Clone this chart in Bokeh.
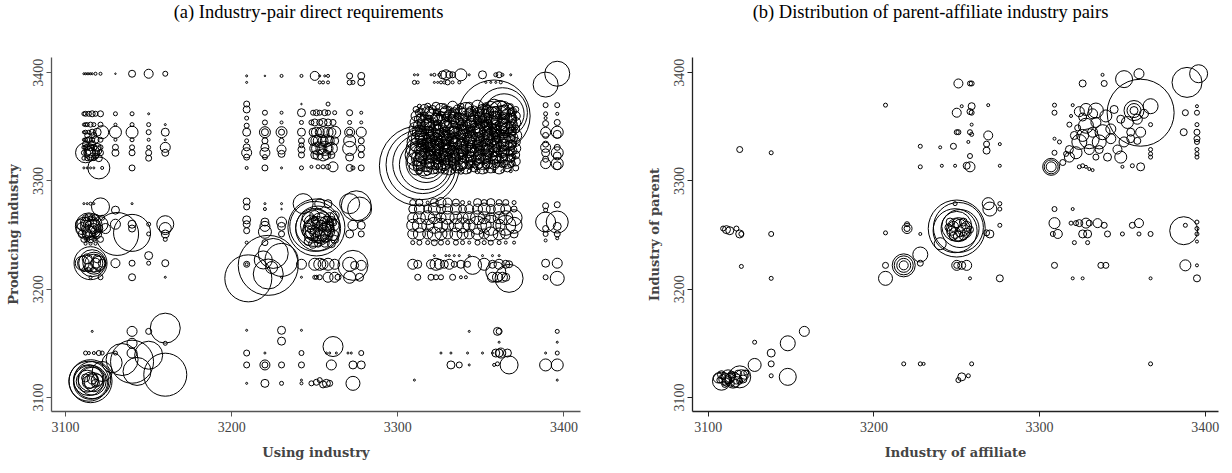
from bokeh.plotting import figure
from bokeh.layouts import row, column
from bokeh.models import FixedTicker, ColumnDataSource, Range1d
from bokeh.core.properties import value
from bokeh.embed import file_html
from bokeh.resources import INLINE

# ---------------- tick labels / titles ----------------
ticks = [3100, 3200, 3300, 3400]
title_a = "(a) Industry-pair direct requirements"
title_b = "(b) Distribution of parent-affiliate industry pairs"
xlab_a, ylab_a = "Using industry", "Producing industry"
xlab_b, ylab_b = "Industry of affiliate", "Industry of parent"

# ---------------- panel (a): (using, producing, marker size) ----------------
a_food_top = [
    (3111,3399,2),(3112,3399,2),(3113,3399,2),(3114,3399,2),(3115,3399,2),(3116,3399,2),(3118,3399,3),(3121,3399,3),
    (3130,3399,1.5),(3140,3399,7),(3150,3399,9),(3160,3399,5),
    (3111,3362,4),(3112,3362,5),(3114,3362,5),(3116,3362,6),(3118,3362,5),(3121,3362,6),(3130,3362,4),(3140,3362,4),(3150,3362,2),
    (3111,3352,3),(3112,3352,4),(3113,3352,4),(3115,3352,5),(3117,3352,4),(3121,3352,5),(3130,3352,3),(3140,3352,4),(3150,3352,4),(3160,3352,2),
    (3111,3345,3),(3112,3345,4),(3114,3345,4),(3116,3345,6),(3119,3345,8),(3122,3345,13),(3130,3345,12),(3140,3345,12),(3150,3345,5),(3160,3345,8),
    (3111,3338,3),(3112,3338,4),(3113,3338,5),(3114,3338,6),(3116,3338,5),(3118,3338,7),(3121,3338,5),(3130,3338,3),(3140,3338,4),(3150,3338,3),(3160,3338,2),
    (3111,3331,4),(3112,3331,5),(3113,3331,6),(3115,3331,7),(3117,3331,6),(3119,3331,8),(3121,3331,5),(3130,3331,6),(3140,3331,5),(3150,3331,4),(3160,3331,10),
    (3111,3326,5),(3112,3326,20),(3113,3326,7),(3115,3326,9),(3116,3326,15),(3118,3326,6),(3121,3326,6),(3130,3326,7),(3140,3326,6),(3150,3326,6),(3160,3326,7),
    (3111,3321,4),(3113,3321,5),(3115,3321,6),(3117,3321,5),(3120,3321,7),(3150,3321,6),
    (3111,3312,2),(3113,3312,2),(3115,3312,2),(3117,3312,2),(3120,3312,22),(3122,3312,3),(3140,3312,6),
    (3112,3334,6),(3114,3328,8),(3116,3334,7),(3118,3323,6),(3113,3342,5),(3117,3342,6),(3119,3328,9),
]
a_food_mid = [
    (3111,3279,2),(3113,3279,2),(3115,3279,3),(3117,3279,2),(3121,3276,18),(3130,3273,8),(3140,3279,2),
    (3112,3266,6),(3114,3266,8),(3116,3266,6),(3118,3266,7),(3122,3266,5),
    (3109,3260,10),(3111,3260,14),(3113,3260,8),(3114,3258,27),(3115,3258,20),(3116,3258,14),(3118,3260,9),(3121,3260,15),
    (3130,3260,10),(3140,3260,8),(3150,3260,4),(3160,3260,17),
    (3110,3256,12),(3112,3256,8),(3117,3256,10),(3120,3256,8),(3124,3256,10),(3140,3256,7),(3160,3256,12),
    (3110,3251,8),(3113,3251,10),(3116,3251,6),(3119,3251,9),(3131,3251,43),(3140,3252,37),(3150,3251,4),(3160,3251,8),
    (3111,3246,6),(3113,3246,5),(3115,3246,7),(3117,3246,4),(3121,3246,6),(3160,3246,4),
    (3112,3242,3),(3115,3242,3),(3118,3242,3),(3150,3231,8),
    (3110,3224,14),(3112,3224,16),(3115,3224,33),(3116,3224,27),(3117,3224,22),(3117,3224,18),(3118,3224,10),(3120,3224,14),
    (3122,3224,8),(3130,3224,9),(3140,3224,6),(3150,3224,4),(3160,3224,7),
    (3111,3218,4),(3114,3218,4),(3117,3218,5),(3120,3218,4),
    (3115,3211,3),(3121,3211,5),(3140,3211,7),(3160,3211,2),
    (3112,3262,10),(3114,3253,12),(3116,3262,9),(3118,3253,10),(3113,3228,10),(3119,3228,8),(3114,3220,9),
]
a_food_low = [
    (3115,3115,43),(3114,3115,40),(3116,3116,37),(3115,3114,34),(3114,3116,31),(3116,3115,28),(3115,3117,25),(3113,3115,22),
    (3117,3114,19),(3115,3116,16),(3114,3114,13),(3116,3117,10),(3112,3118,8),(3118,3113,8),(3119,3116,12),
    (3116,3161,2),(3112,3141,4),(3114,3141,3),(3117,3141,3),(3120,3141,5),(3122,3141,4),(3130,3141,4),
    (3140,3161,10),(3150,3161,6),(3140,3150,10),(3140,3141,10),(3160,3150,4),(3160,3164,30),(3150,3139,28),
    (3134,3135,32),(3140,3133,43),(3160,3121,43),(3128,3132,20),(3143,3124,28),(3122,3124,20),
]
a_mid_top = [
    (3209,3397,2),(3220,3397,1.5),(3230,3397,3),(3242,3397,3),(3250,3397,9),(3253,3397,2),(3256,3397,2),(3258,3397,3),(3271,3397,6),(3278,3397,7),
    (3209,3391,2),(3253,3391,3),(3255,3391,3),(3258,3391,3),(3271,3391,5),(3273,3391,4),(3278,3391,7),
    (3209,3371,6),(3209,3366,7),(3209,3358,4),(3209,3351,5),(3209,3345,8),(3209,3337,4),(3209,3331,7),(3209,3326,10),(3209,3322,6),(3209,3312,3),
    (3220,3363,5),(3220,3354,5),(3220,3345,11),(3220,3345,7),(3220,3337,6),(3220,3331,8),(3220,3326,10),(3220,3322,5),(3220,3312,6),
    (3230,3363,3),(3230,3354,3),(3230,3345,11),(3230,3345,6),(3230,3337,5),(3230,3329,9),(3230,3325,7),(3230,3312,2),
    (3242,3371,1.5),(3242,3363,8),(3242,3354,4),(3242,3345,8),(3242,3337,6),(3242,3333,5),(3242,3329,7),(3242,3324,6),(3242,3312,4),
    (3249,3363,5),(3251,3363,6),(3253,3363,5),(3256,3363,6),(3258,3363,5),(3262,3363,4),(3258,3371,4),
    (3248,3354,5),(3250,3354,7),(3253,3354,6),(3255,3354,8),(3258,3354,7),(3261,3354,6),
    (3249,3345,8),(3251,3345,10),(3253,3345,9),(3255,3345,11),(3258,3345,10),(3260,3345,9),(3262,3345,12),
    (3249,3337,9),(3251,3337,11),(3253,3337,13),(3255,3337,10),(3257,3337,12),(3259,3337,9),(3262,3337,8),
    (3250,3330,10),(3252,3330,13),(3254,3330,11),(3256,3330,14),(3258,3330,10),(3260,3330,12),
    (3250,3324,8),(3252,3324,10),(3255,3324,12),(3257,3324,9),(3260,3324,7),
    (3248,3313,3),(3252,3313,4),(3255,3313,4),(3258,3313,5),(3261,3313,10),
    (3271,3363,6),(3278,3363,3),(3271,3354,4),(3278,3354,3),(3271,3345,10),(3271,3345,6),(3278,3345,10),(3271,3337,12),(3278,3337,6),
    (3271,3330,14),(3278,3330,7),(3271,3322,8),(3278,3324,6),(3271,3312,7),(3278,3312,6),(3273,3312,4),
]
a_mid_mid = [
    (3209,3281,7),(3209,3276,6),(3209,3264,8),(3209,3260,7),(3209,3254,6),(3209,3243,3),(3209,3223,6),(3209,3223,3),
    (3220,3279,2),(3220,3274,3),(3220,3262,8),(3220,3258,10),(3220,3253,13),(3220,3243,6),
    (3230,3279,2),(3230,3274,1.5),(3230,3262,10),(3230,3258,8),(3230,3251,6),
    (3210,3210,47),(3222,3222,60),(3222,3214,30),(3230,3227,33),(3219,3227,18),(3224,3220,12),(3225,3233,30),
    (3243,3279,20),(3253,3279,10),(3258,3279,8),(3271,3279,20),(3275,3277,30),(3277,3274,24),(3273,3259,10),(3278,3259,8),(3271,3251,8),(3278,3251,6),
    (3251,3257,57),(3250,3258,50),(3252,3256,45),(3250,3257,38),(3251,3259,32),(3252,3255,26),(3249,3256,20),
    (3246,3266,12),(3248,3262,14),(3250,3268,10),(3253,3263,16),(3255,3266,12),(3257,3261,14),(3259,3266,10),(3261,3259,12),(3262,3268,9),
    (3246,3253,12),(3248,3249,14),(3250,3252,10),(3253,3248,13),(3255,3252,15),(3257,3249,12),(3259,3253,10),(3261,3250,11),(3262,3246,8),
    (3246,3244,8),(3249,3242,9),(3252,3242,7),(3256,3243,9),(3260,3242,8),
    (3247,3258,11),(3249,3263,9),(3251,3254,12),(3254,3259,10),(3256,3255,13),(3258,3258,11),(3260,3263,9),(3253,3251,9),
    (3248,3255,8),(3250,3264,7),(3252,3261,9),(3255,3257,8),(3257,3264,7),(3259,3256,9),(3261,3262,8),(3250,3248,7),(3256,3247,8),
    (3242,3223,10),(3250,3223,12),(3253,3223,12),(3255,3223,10),(3258,3223,12),(3262,3223,10),
    (3273,3222,30),(3271,3223,14),(3274,3222,8),(3278,3222,10),(3277,3211,8),(3271,3211,12),
    (3230,3211,2),(3242,3211,2),(3250,3211,4),(3251,3211,4),(3253,3211,5),(3258,3211,10),(3262,3211,10),(3264,3211,6),
]
a_mid_low = [
    (3209,3162,2),(3230,3162,8),(3230,3152,8),(3242,3162,2),(3209,3141,6),(3209,3130,6),(3220,3141,2),(3220,3130,10),(3220,3130,6),
    (3230,3130,6),(3242,3141,5),(3242,3130,6),(3261,3147,20),(3260,3130,10),(3257,3141,2),(3259,3141,2),(3263,3141,2),(3270,3141,2),
    (3272,3141,2),(3278,3141,5),(3278,3130,8),(3273,3130,8),(3209,3113,2),(3220,3113,8),(3230,3113,4),(3242,3113,3),(3242,3116,2),
    (3248,3113,5),(3251,3114,6),(3253,3116,5),(3255,3112,7),(3257,3113,8),(3259,3113,6),(3273,3113,14),
]
a_mfg_top = [
    (3310,3398,2),(3312,3398,2),(3320,3398,2),(3322,3398,3),(3325,3398,3),(3327,3398,8),(3329,3398,10),(3331,3398,7),(3333,3398,6),
    (3338,3398,12),(3343,3398,2),(3351,3398,8),(3359,3398,4),(3361,3398,6),(3363,3398,3),(3368,3398,2),
    (3310,3391,4),(3312,3391,3),(3322,3391,2),(3324,3391,2),(3326,3391,3),(3328,3391,3),(3330,3391,5),(3333,3391,3),(3337,3391,3),
    (3353,3391,2),(3356,3391,2),(3359,3391,2),(3362,3391,3),
    (3389,3389,25),(3396,3399,25),
    (3313,3314,80),(3314,3315,70),(3315,3316,60),(3316,3315,50),(3317,3317,40),(3318,3316,30),
    (3358,3360,72),(3363,3363,50),(3364,3362,40),(3362,3360,30),
]
# dense blocks: using-industry columns x producing-industry rows
a_mfg_cols = [3311, 3316, 3321, 3326, 3331, 3336, 3341, 3346, 3351, 3356, 3361, 3366, 3371]
a_mfg_rows = [3366, 3360, 3354, 3348, 3342, 3336, 3330, 3324, 3318, 3312]
a_mfg_sizes = [
    [6, 10, 8, 12, 6, 9, 14, 7, 10, 16, 18, 12, 6],
    [10, 8, 14, 9, 12, 7, 10, 12, 14, 18, 20, 14, 9],
    [12, 14, 9, 16, 10, 13, 8, 15, 12, 14, 16, 18, 10],
    [14, 10, 16, 12, 18, 9, 14, 11, 16, 12, 15, 13, 8],
    [16, 18, 12, 14, 10, 16, 12, 18, 10, 14, 12, 16, 12],
    [18, 14, 20, 12, 16, 14, 18, 12, 16, 10, 14, 18, 9],
    [20, 16, 14, 18, 12, 20, 10, 16, 14, 18, 12, 14, 10],
    [22, 18, 16, 14, 20, 12, 16, 14, 18, 12, 16, 12, 8],
    [18, 20, 14, 16, 12, 18, 14, 12, 16, 14, 10, 14, 9],
    [14, 16, 12, 10, 14, 10, 12, 8, 12, 10, 12, 8, 6],
]
a_mfg_cols2 = [3313, 3318, 3323, 3328, 3333, 3338, 3343, 3348, 3353, 3358, 3363, 3368]
a_mfg_rows2 = [3369, 3363, 3357, 3351, 3345, 3339, 3333, 3327, 3321, 3315, 3309]
a_mfg_sizes2 = [
    [4, 6, 8, 5, 10, 6, 8, 12, 7, 14, 10, 5],
    [8, 12, 6, 10, 8, 12, 9, 10, 16, 12, 14, 8],
    [10, 8, 12, 14, 9, 11, 13, 8, 12, 16, 10, 12],
    [12, 14, 10, 12, 16, 10, 12, 14, 10, 12, 14, 9],
    [14, 12, 16, 10, 12, 14, 10, 16, 12, 10, 12, 10],
    [16, 18, 12, 14, 10, 16, 14, 12, 14, 12, 16, 8],
    [18, 14, 16, 12, 18, 12, 16, 10, 12, 14, 12, 10],
    [20, 16, 14, 18, 12, 14, 12, 14, 16, 10, 12, 9],
    [16, 18, 12, 14, 16, 10, 14, 12, 10, 12, 10, 8],
    [12, 14, 10, 12, 8, 12, 8, 10, 8, 10, 6, 6],
    [6, 8, 5, 6, 4, 6, 4, 5, 4, 3, 3, 3],
]
a_mfg_cols3 = [3314, 3319, 3324, 3329, 3334, 3339, 3344, 3349, 3354, 3359, 3364, 3369]
a_mfg_rows3 = [3364, 3358, 3352, 3346, 3340, 3334, 3328, 3322, 3316]
a_mfg_sizes3 = [
    [7, 9, 6, 11, 8, 7, 10, 9, 12, 10, 13, 8],
    [9, 6, 10, 8, 12, 9, 7, 11, 9, 13, 11, 9],
    [8, 11, 9, 12, 7, 10, 12, 8, 11, 9, 12, 10],
    [11, 9, 12, 8, 10, 13, 9, 12, 10, 11, 9, 8],
    [12, 10, 8, 13, 11, 9, 12, 10, 13, 9, 10, 11],
    [10, 13, 11, 9, 12, 10, 8, 13, 11, 12, 10, 8],
    [13, 11, 10, 12, 9, 12, 11, 9, 12, 10, 11, 9],
    [11, 12, 13, 10, 11, 9, 10, 12, 9, 11, 8, 7],
    [9, 10, 8, 11, 9, 10, 8, 9, 10, 8, 7, 6],
]
a_band_cols = [3309, 3313, 3318, 3322, 3326, 3330, 3335, 3339, 3343, 3348, 3352, 3356, 3361, 3365, 3370]
a_band_rows = [3280, 3274, 3266, 3259, 3251, 3243]
a_band_sizes = [
    [6, 7, 3, 8, 10, 9, 7, 4, 3, 8, 6, 8, 6, 6, 4],
    [8, 10, 8, 12, 9, 10, 11, 8, 9, 10, 12, 9, 11, 10, 6],
    [10, 12, 14, 12, 10, 13, 12, 11, 12, 14, 12, 10, 12, 14, 16],
    [12, 14, 12, 16, 14, 12, 13, 15, 12, 18, 14, 20, 12, 20, 16],
    [10, 12, 10, 14, 12, 10, 12, 11, 10, 12, 10, 14, 12, 10, 8],
    [4, 5, 4, 6, 5, 4, 5, 4, 3, 5, 4, 5, 4, 3, 3],
]
a_mfg_other = [
    (3322,3231,2),(3329,3231,2),(3331,3231,2),(3334,3231,2),(3337,3231,2),(3343,3231,2),(3351,3231,2),(3357,3231,2),(3361,3231,2),
    (3309,3223,10),(3312,3223,8),(3320,3223,9),(3323,3223,12),(3325,3223,10),(3328,3223,8),(3331,3223,10),(3334,3223,6),(3338,3223,8),
    (3342,3223,6),(3345,3222,18),(3352,3223,12),(3357,3223,8),(3361,3223,10),(3365,3223,8),(3367,3223,7),
    (3312,3211,6),(3320,3211,6),(3323,3211,5),(3326,3211,5),(3333,3211,6),(3338,3211,3),(3341,3211,3),(3357,3211,10),(3360,3211,10),
    (3363,3211,10),(3365,3211,8),(3367,3210,28),(3359,3216,20),
    (3389,3277,6),(3389,3273,4),(3389,3262,20),(3389,3256,6),(3389,3251,5),(3389,3245,3),(3396,3278,6),(3396,3262,22),(3396,3258,8),
    (3396,3251,6),(3396,3247,3),(3389,3224,8),(3389,3211,5),(3396,3224,10),(3396,3210,14),
    (3389,3370,5),(3389,3362,4),(3389,3358,3),(3389,3353,6),(3389,3345,10),(3389,3342,6),(3389,3334,6),(3389,3331,10),(3389,3326,8),
    (3389,3320,6),(3389,3316,10),(3396,3370,5),(3396,3362,3),(3396,3354,6),(3396,3345,12),(3396,3343,8),(3396,3331,6),(3396,3326,12),
    (3396,3323,8),(3396,3316,12),(3396,3314,8),
    (3343,3161,2),(3360,3161,8),(3361,3161,6),(3361,3151,2),(3359,3141,8),(3361,3141,8),(3357,3141,2),(3351,3141,2),(3342,3141,2),
    (3332,3141,2),(3326,3141,2),(3362,3141,10),(3366,3141,8),(3367,3130,18),(3332,3130,8),(3337,3130,6),(3343,3130,2),(3358,3130,3),
    (3360,3131,4),(3310,3116,2),(3396,3161,4),(3396,3151,2),(3396,3141,4),(3389,3141,2),(3389,3130,12),(3396,3130,12),(3396,3116,2),
]

# ---------------- panel (b): (affiliate, parent, marker size) ----------------
b_food = [
    (3108,3115,18),(3119,3119,22),(3115,3116,16),(3112,3119,14),(3110,3117,12),(3106,3118,10),(3108,3121,8),(3111,3114,8),
    (3113,3118,9),(3114,3121,7),(3116,3113,8),(3117,3117,10),(3118,3122,7),(3120,3120,12),(3121,3117,8),(3110,3112,6),
    (3107,3116,6),(3112,3116,7),(3114,3113,6),(3109,3119,5),(3115,3120,5),(3122,3121,9),(3119,3115,6),(3123,3123,5),
    (3128,3130,13),(3128,3151,4),(3138,3141,8),(3138,3131,6),(3138,3120,4),(3148,3119,17),(3148,3150,15),(3158,3161,10),
    (3109,3256,5),(3111,3255,8),(3113,3254,8),(3117,3256,5),(3119,3251,8),(3120,3251,5),(3120,3221,4),(3138,3251,5),
    (3138,3210,4),(3138,3326,4),(3119,3329,6),
]
b_mid = [
    (3207,3370,4),(3207,3252,4),(3207,3210,14),(3207,3222,6),(3218,3222,23),(3218,3222,19),(3218,3222,14),(3218,3222,9),
    (3228,3232,15),(3228,3224,6),(3218,3131,4),(3228,3131,4),(3228,3332,4),(3228,3313,4),(3220,3256,10),(3220,3256,6),
    (3220,3260,5),(3228,3251,3),
    (3251,3390,9),(3258,3390,5),(3259,3390,5),
    (3250,3363,9),(3259,3369,7),(3259,3363,5),(3258,3364,6),(3253,3369,3),(3269,3370,3),(3259,3352,3),
    (3250,3345,5),(3251,3345,5),(3258,3345,5),(3259,3343,4),(3257,3336,3),
    (3269,3342,9),(3268,3334,6),(3268,3328,7),(3276,3334,3),(3248,3332,6),(3240,3331,3),(3258,3323,5),
    (3241,3314,3),(3249,3314,3),(3258,3313,10),(3256,3314,7),(3276,3314,3),
    (3250,3256,57),(3251,3257,50),(3249,3254,44),(3252,3256,38),(3250,3258,30),(3251,3255,24),
    (3246,3262,8),(3248,3258,10),(3250,3261,9),(3252,3259,12),(3254,3262,8),(3256,3258,10),(3247,3254,9),(3249,3252,11),
    (3252,3253,10),(3254,3255,12),(3256,3252,9),(3248,3249,8),(3251,3249,10),(3254,3249,8),(3258,3255,7),(3245,3257,7),
    (3269,3279,12),(3270,3274,14),(3276,3279,4),(3276,3274,4),(3276,3259,4),(3270,3251,8),(3268,3252,6),(3240,3242,12),
    (3250,3222,10),(3250,3222,6),(3256,3222,10),(3253,3222,8),(3258,3210,3),(3276,3210,7),(3249,3279,4),
    (3259,3131,4),(3253,3119,8),(3251,3116,5),(3257,3120,4),(3230,3131,3),
]
b_mfg = [
    (3309,3274,5),(3320,3274,3),(3309,3261,11),(3308,3251,5),(3311,3251,9),
    (3319,3261,4),(3322,3261,5),(3324,3261,7),(3328,3261,10),(3330,3261,6),(3335,3261,9),(3339,3259,6),(3341,3251,6),
    (3326,3251,8),(3329,3251,8),(3321,3243,4),(3329,3243,4),(3350,3251,4),(3356,3259,6),(3360,3261,9),(3360,3251,4),(3367,3251,5),
    (3309,3222,6),(3320,3210,3),(3326,3210,3),(3337,3222,6),(3340,3222,6),(3367,3210,3),
    (3387,3254,28),(3388,3259,4),(3395,3262,4),(3395,3256,4),(3395,3251,4),(3395,3244,3),(3388,3222,11),(3395,3222,3),(3395,3210,7),
    (3367,3131,4),
    (3361,3363,67),(3389,3391,30),(3396,3399,18),(3351,3394,17),(3360,3399,10),(3339,3390,6),(3338,3398,3),(3326,3390,7),
    (3307,3313,17),(3307,3313,14),(3307,3313,10),(3318,3322,10),(3309,3326,5),(3309,3339,3),(3318,3352,5),(3319,3360,3),
    (3309,3370,4),(3309,3363,5),(3320,3370,3),(3324,3364,10),(3328,3366,12),(3334,3365,15),(3340,3360,12),(3349,3357,8),
    (3357,3365,20),(3357,3365,14),(3357,3365,8),(3367,3369,15),(3367,3352,4),(3361,3345,10),(3355,3345,8),(3359,3337,7),
    (3367,3329,4),(3367,3325,4),(3367,3322,4),(3361,3313,8),(3356,3314,4),(3350,3313,3),(3349,3322,12),(3341,3322,8),
    (3334,3322,6),(3324,3313,4),(3326,3314,4),(3328,3313,3),(3330,3311,3),(3332,3310,3),(3324,3336,15),(3330,3339,20),
    (3338,3345,15),(3328,3351,15),(3334,3354,10),(3343,3348,10),(3351,3336,10),(3355,3339,8),(3322,3326,12),(3318,3329,8),
    (3326,3342,12),(3332,3345,10),(3336,3336,14),(3343,3339,10),(3330,3329,10),(3336,3329,8),(3347,3329,9),(3353,3354,12),
    (3359,3357,10),(3363,3362,9),(3326,3359,8),(3332,3362,10),(3345,3366,8),(3314,3317,6),(3316,3325,5),(3321,3342,8),
    (3323,3349,6),(3312,3336,4),
    (3387,3345,7),(3395,3369,3),(3395,3363,5),(3388,3363,6),(3395,3352,4),(3395,3345,6),(3395,3339,6),(3395,3336,5),
    (3395,3329,4),(3395,3325,4),(3395,3322,4),
]

SERIF = "Liberation Serif"
LABEL_FONT = "DejaVu Serif"
TITLE_H = 30


def collect(triples, grids=()):
    xs, ys, ds = [], [], []
    for group in triples:
        for x, y, d in group:
            xs.append(x); ys.append(y); ds.append(d)
    for cols, rows, sizes in grids:
        for yv, srow in zip(rows, sizes):
            for xv, d in zip(cols, srow):
                xs.append(xv); ys.append(yv); ds.append(d)
    return ColumnDataSource(dict(x=xs, y=ys, d=ds))


def title_strip(text, width, cx):
    t = figure(width=width, height=TITLE_H, x_range=Range1d(0, width), y_range=Range1d(0, TITLE_H),
               x_axis_type=None, y_axis_type=None, output_backend="svg", toolbar_location=None,
               min_border=0)
    t.grid.visible = False
    t.outline_line_color = None
    t.text(x=[cx], y=[TITLE_H - 11], text=[text], text_font=value(SERIF), text_font_size="18.5px",
           text_align="center", text_baseline="middle", text_color="black")
    return t


def make(xlab, ylab, xr, yr, width, bl, br, axis_color, src):
    p = figure(width=width, height=462 - TITLE_H, x_range=Range1d(*xr), y_range=Range1d(*yr),
               output_backend="svg", toolbar_location=None,
               min_border_left=bl, min_border_right=br, min_border_top=57 - TITLE_H, min_border_bottom=50)
    p.grid.visible = False
    p.outline_line_color = None
    for ax, lab in ((p.xaxis[0], xlab), (p.yaxis[0], ylab)):
        ax.ticker = FixedTicker(ticks=ticks)
        ax.axis_label = lab
        ax.axis_label_text_font = LABEL_FONT
        ax.axis_label_text_font_style = "bold"
        ax.axis_label_text_font_size = "13px"
        ax.major_label_text_font = SERIF
        ax.major_label_text_font_size = "14px"
        ax.major_tick_in = 0
        ax.major_tick_out = 5
        ax.minor_tick_in = 0
        ax.minor_tick_out = 0
        ax.axis_line_color = axis_color
        ax.major_tick_line_color = axis_color
        ax.axis_line_width = 1.3
    p.yaxis[0].major_label_orientation = "vertical"
    p.yaxis[0].major_label_standoff = 3
    p.xaxis[0].major_label_standoff = 5
    p.yaxis[0].axis_label_standoff = 10
    p.xaxis[0].axis_label_standoff = 10
    p.scatter("x", "y", size="d", marker="circle", source=src,
              fill_color=None, line_color="black", line_width=1)
    return p


src_a = collect([a_food_top, a_food_mid, a_food_low, a_mid_top, a_mid_mid, a_mid_low, a_mfg_top, a_mfg_other],
                [(a_mfg_cols, a_mfg_rows, a_mfg_sizes), (a_mfg_cols2, a_mfg_rows2, a_mfg_sizes2),
                 (a_mfg_cols3, a_mfg_rows3, a_mfg_sizes3), (a_band_cols, a_band_rows, a_band_sizes)])
src_b = collect([b_food, b_mid, b_mfg])

pa = make(xlab_a, ylab_a, (3091.5, 3410), (3087, 3414), 600, 51, 20, "#555555", src_a)
pb = make(xlab_b, ylab_b, (3090.5, 3408), (3087, 3414), 620, 92, 2, "#222222", src_b)
ta = title_strip(title_a, 600, 308)
tb = title_strip(title_b, 620, 330)

layout = column(row(ta, tb), row(pa, pb))
open("out.html", "w").write(file_html(layout, INLINE))
